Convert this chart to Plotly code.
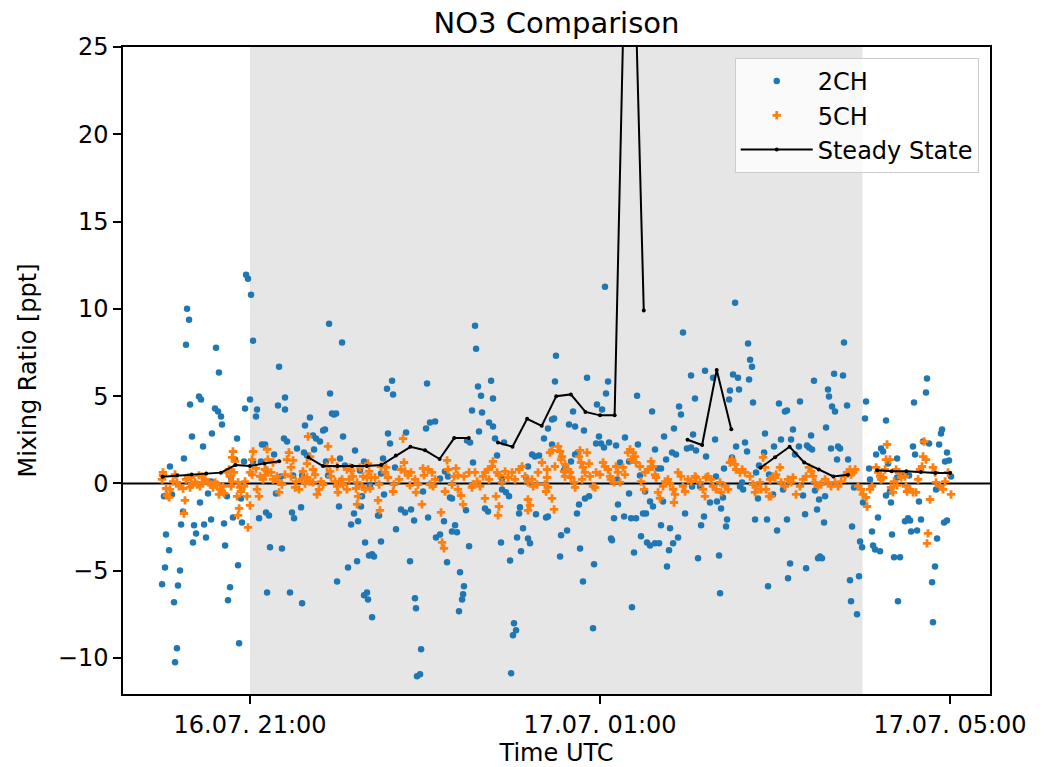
import pandas as pd
import plotly.graph_objects as go

# ---------------- data (minutes relative to 16.07. 21:00 UTC, mixing ratio in ppt) ----------------
ch2_points = [
    (-60.3, -5.78), (-59.0, -0.74), (-58.3, -4.81), (-57.6, -2.92), (-55.5, -3.83), (-54.9, 0.97), (-53.5, -0.63),
    (-52.1, -6.81), (-51.4, -10.24), (-50.1, -9.44), (-49.4, -5.84), (-48.0, -4.98), (-47.3, -2.35), (-45.9, -1.60),
    (-45.3, 1.43), (-43.9, 7.95), (-43.2, 10.01), (-41.8, 9.38), (-41.1, 4.52), (-39.8, 2.69), (-39.1, -3.38),
    (-38.4, -2.40), (-37.0, -2.86), (-35.0, 4.98), (-34.3, -1.09), (-33.6, 4.81), (-32.2, 2.12), (-31.5, -2.35),
    (-30.2, -3.09), (-28.8, -0.57), (-26.7, 0.11), (-26.7, -2.06), (-26.1, 2.86), (-24.0, 4.29), (-23.3, 7.78),
    (-21.9, 4.12), (-21.3, 6.35), (-19.9, 3.83), (-19.2, 3.38), (-17.8, -2.29), (-17.1, -3.55), (-15.8, -0.74),
    (-15.1, -6.69), (-13.7, -5.95), (-13.0, 0.34), (-11.7, -1.95), (-10.3, 1.37), (-8.9, 2.57), (-8.2, -4.69),
    (-7.5, -9.15), (-6.2, -0.86), (-5.5, -2.23), (-4.1, 1.26), (-3.4, 4.29), (-2.7, 11.96), (-1.4, 11.73),
    (0.0, 4.81), (0.7, 10.81), (2.1, 8.18), (2.1, 1.26), (4.1, 3.83), (4.8, 4.23), (6.2, -2.00), (7.5, 1.26),
    (8.2, 2.23), (10.3, 2.23), (11.0, -1.66), (11.7, -6.24), (13.0, -1.83), (13.7, -3.66), (16.5, 1.66),
    (17.8, -0.57), (19.2, 4.46), (19.9, 6.69), (21.3, 0.40), (21.9, -3.72), (23.3, 2.57), (24.0, 4.92),
    (24.0, 4.23), (25.4, 2.40), (27.4, -6.24), (28.8, -1.66), (29.5, 0.46), (30.2, -2.00), (32.2, 2.00),
    (35.0, -1.37), (35.7, 0.46), (35.7, -6.86), (37.0, 1.77), (37.7, 3.32), (39.1, 1.60), (41.1, 3.78),
    (43.2, 2.75), (43.9, 1.95), (45.3, 2.57), (48.0, 2.40), (50.1, 3.03), (51.4, 3.09), (52.1, 1.26),
    (53.5, 0.46), (54.2, 9.15), (54.9, 5.15), (56.2, 4.00), (57.6, 3.95), (59.0, 4.00), (59.7, -5.61),
    (61.0, -1.32), (61.7, 1.43), (63.1, 8.07), (63.8, 2.69), (65.1, 1.03), (67.2, -4.81), (69.3, -2.35),
    (71.3, -1.72), (72.0, 1.89), (73.4, -4.46), (74.1, -2.17), (75.4, 0.74), (76.1, -1.32), (76.8, -0.74),
    (78.2, 1.26), (78.2, -6.41), (78.9, -3.38), (80.2, -6.24), (80.9, -6.64), (81.6, -4.12), (82.3, -0.11),
    (83.7, -4.06), (83.7, -7.67), (85.0, -4.18), (87.8, -1.83), (88.5, -1.83), (89.8, 0.57), (89.8, -3.32),
    (91.2, 1.43), (91.9, -0.63), (93.9, 5.43), (94.6, 2.86), (96.0, 2.29), (97.4, 5.89), (98.1, 5.09),
    (99.4, 0.92), (100.1, -2.63), (103.5, -1.49), (106.3, -1.66), (107.0, 2.92), (109.7, -4.46), (110.4, -1.49),
    (112.5, -2.12), (113.1, -6.58), (113.8, -7.15), (114.5, -11.04), (116.6, -10.93), (117.3, -9.50),
    (118.6, -0.46), (120.7, 3.15), (121.4, 5.72), (122.1, -1.95), (123.4, 3.49), (125.5, -0.11), (126.9, 3.55),
    (127.5, -3.09), (130.3, -2.92), (130.3, 0.29), (133.0, -2.17), (133.7, 0.69), (135.1, -4.52), (135.8, 0.40),
    (137.1, -0.80), (138.5, -0.86), (138.5, -2.75), (140.6, -2.40), (141.9, -2.80), (143.3, -7.32),
    (144.0, -5.09), (145.4, -6.64), (146.1, -6.35), (146.7, -5.89), (148.1, -1.54), (148.8, 2.46),
    (150.2, -3.60), (150.9, 2.35), (152.2, 4.18), (152.9, 1.20), (154.3, 9.04), (155.0, 7.72), (156.3, 5.55),
    (157.0, 2.97), (158.4, 5.03), (159.1, 4.06), (161.1, -1.43), (163.2, -1.60), (163.9, 3.49), (165.3, 5.89),
    (166.6, 4.86), (166.6, 3.26), (168.0, 2.57), (169.4, 1.60), (172.1, -3.38), (172.8, 0.29), (172.8, -0.34),
    (174.2, 2.35), (175.5, -0.51), (177.6, -0.74), (178.3, -4.41), (179.0, -10.87), (180.3, -8.70),
    (181.0, -8.01), (182.4, -8.41), (183.1, -3.09), (184.5, -1.72), (185.1, -1.37), (185.8, -3.89),
    (187.2, -2.57), (189.3, 0.34), (190.6, 0.97), (190.6, -3.15), (192.0, -3.43), (193.4, 1.66), (195.4, 1.54),
    (196.1, -1.77), (198.2, 1.60), (201.6, 2.57), (203.0, -1.95), (204.3, -1.89), (204.3, 3.15), (207.1, 3.66),
    (207.1, 2.23), (208.5, 3.72), (209.1, 5.84), (209.8, 7.32), (212.6, -4.18), (213.3, -2.97), (215.3, 0.74),
    (216.0, 0.86), (217.4, -2.69), (218.7, 3.38), (220.1, 1.26), (221.5, 4.12), (222.9, 1.66), (222.9, 3.26),
    (224.2, -1.72), (224.9, 1.77), (225.6, -1.20), (226.3, -3.72), (228.3, -5.61), (229.0, 3.03), (229.7, -0.86),
    (231.1, 6.06), (232.5, -0.74), (235.2, -8.30), (235.9, -4.63), (237.3, 2.29), (237.9, 4.52), (239.3, 2.69),
    (240.7, 2.29), (241.4, 4.23), (242.7, 2.06), (243.4, 11.27), (244.1, 5.15), (245.5, 5.84), (246.2, 2.35),
    (247.5, -3.15), (248.2, -3.26), (249.6, -2.00), (251.0, 2.17), (251.7, 0.23), (252.3, -1.20), (253.7, 1.20),
    (256.5, -1.89), (257.1, 2.63), (259.9, 1.26), (259.9, -0.57), (261.3, -2.00), (261.9, -7.09), (263.3, -3.95),
    (264.7, -2.00), (265.4, 5.03), (266.0, 2.23), (267.4, 0.46), (268.1, -3.03), (269.5, -1.72), (270.9, -0.46),
    (271.5, -1.72), (272.2, -3.38), (274.3, -1.03), (274.3, -3.55), (275.7, 4.12), (276.3, -1.32), (277.7, 1.95),
    (277.7, -3.43), (279.8, 0.86), (280.5, -3.43), (281.8, 0.86), (281.8, -2.40), (283.2, -1.03), (283.9, 2.69),
    (285.3, 1.37), (285.9, -4.75), (287.3, -3.83), (288.0, -2.57), (289.4, 1.77), (290.1, -3.43), (290.7, 3.15),
    (292.1, 1.66), (293.5, -3.09), (294.2, 4.41), (295.5, 3.95), (296.9, 8.64), (298.3, -1.72), (299.6, 2.00),
    (302.4, 6.18), (302.4, 2.06), (303.1, -0.17), (303.8, 2.80), (305.1, 4.86), (305.8, 1.89), (307.2, -4.29),
    (308.6, -0.17), (309.3, -2.40), (311.3, -1.89), (312.0, 6.46), (312.7, 1.54), (315.4, -1.09), (317.5, 6.06),
    (318.9, 2.52), (319.5, 0.40), (320.2, -1.03), (321.6, -4.12), (322.3, -6.29), (323.0, -1.43), (324.3, -0.80),
    (325.0, 0.86), (326.4, -2.46), (327.1, -2.06), (328.5, 4.81), (329.1, 5.32), (330.5, 1.49), (331.2, 6.24),
    (332.6, 10.35), (333.3, 2.12), (334.6, 6.06), (335.3, 5.38), (336.0, -0.17), (337.4, 0.06), (338.1, -0.34),
    (339.4, 2.35), (340.8, 1.83), (341.5, 8.01), (342.2, 5.95), (342.9, 7.09), (344.2, 6.69), (344.9, 4.63),
    (346.3, -2.06), (347.0, 0.63), (348.3, -0.86), (349.0, 1.03), (352.5, 1.77), (353.1, 2.86), (354.5, -2.06),
    (355.2, -5.89), (355.9, 0.51), (358.6, -0.63), (359.3, 2.12), (361.4, -2.69), (362.7, 4.58), (364.1, 2.52),
    (365.5, -0.34), (366.8, 4.12), (368.2, 4.18), (368.2, -2.06), (368.9, -5.43), (370.3, -4.58), (371.0, 2.52),
    (372.3, 3.09), (373.7, 1.66), (376.4, 2.12), (377.1, 4.69), (379.2, -0.69), (380.6, -1.77), (381.3, -4.86),
    (381.9, 2.17), (383.3, 2.06), (384.7, 2.75), (385.4, 1.95), (386.7, 5.89), (387.4, -0.40), (388.8, -1.49),
    (389.5, -4.29), (390.2, -0.92), (390.8, -4.18), (392.2, -4.29), (393.6, -2.23), (394.3, -0.74), (395.0, 3.20),
    (396.3, 5.38), (397.0, 4.98), (398.4, 2.00), (399.1, 4.41), (400.5, 6.29), (401.1, 4.12), (402.5, 1.37),
    (403.2, 2.12), (404.6, 2.00), (406.6, 6.18), (407.3, 8.07), (409.4, 4.46), (410.1, 1.37), (411.4, -5.55),
    (412.1, -6.75), (412.8, -2.46), (414.2, -0.23), (416.2, -7.49), (417.6, -5.32), (418.3, -3.32), (419.7, -3.66),
    (420.3, -1.09), (421.7, 3.72), (422.4, 4.69), (424.5, 0.86), (425.1, 0.23), (426.5, -2.75), (427.2, -3.55),
    (428.6, -3.78), (429.3, 1.66), (430.6, -1.95), (432.0, -3.89), (432.7, 2.00), (434.1, 1.83), (436.1, 3.60),
    (436.1, -0.69), (437.5, 1.14), (438.8, -0.46), (439.5, -1.09), (440.2, -2.92), (441.6, -4.23), (443.7, 1.43),
    (443.7, 0.34), (444.3, -6.75), (445.7, -4.23), (447.1, 0.46), (449.1, -2.17), (451.2, -2.00), (451.9, 0.46),
    (452.6, -2.12), (453.3, -2.75), (454.6, 2.12), (455.3, 4.63), (456.0, 1.66), (457.4, -2.69), (458.7, -1.03),
    (460.1, -2.06), (461.5, 2.40), (463.5, 5.21), (464.2, 6.01), (465.6, 2.29), (467.7, -5.66), (468.3, -7.95),
    (469.7, -4.75), (470.4, -0.34), (471.1, -3.15), (472.5, 2.23), (473.8, 2.86), (474.5, 3.09), (475.9, -2.23),
    (476.6, 1.26), (477.9, 1.77), (477.9, -2.12), (479.3, 1.32), (480.7, 0.40),
]

ch5_points = [
    (-60.3, 0.23), (-59.7, 0.63), (-59.7, 0.46), (-57.6, -0.29), (-56.9, -0.69), (-55.5, -0.80), (-54.9, -0.34),
    (-52.8, 0.11), (-51.4, 0.51), (-50.1, 0.06), (-48.7, -0.17), (-45.9, -0.29), (-45.3, -1.72), (-44.6, -0.97),
    (-43.9, 0.23), (-42.5, 0.34), (-41.1, -0.23), (-40.5, 0.34), (-39.8, -0.06), (-37.7, 0.06), (-36.3, -0.06),
    (-35.0, 0.46), (-34.3, -0.17), (-32.9, 0.40), (-32.2, 0.06), (-30.9, 0.23), (-28.8, 0.06), (-26.7, -0.06),
    (-25.4, -0.23), (-24.0, 0.06), (-22.6, -0.06), (-21.3, -0.63), (-20.6, -0.34), (-19.2, -0.46), (-18.5, -0.17),
    (-17.8, -0.57), (-15.8, 0.63), (-14.4, 0.80), (-13.7, 0.40), (-13.0, -0.17), (-12.3, 0.11), (-11.7, 1.83),
    (-12.3, 1.49), (-11.0, 0.63), (-10.3, 1.26), (-8.9, -0.74), (-8.2, 0.06), (-8.2, -1.83), (-7.5, -1.43),
    (-6.9, -0.23), (-6.2, -0.46), (-4.1, -0.17), (-3.4, 0.11), (-2.1, -0.74), (-1.4, -2.52), (0.0, -1.26),
    (0.0, 0.63), (1.4, 0.51), (1.4, 1.37), (2.1, 1.83), (4.1, 0.86), (4.8, -0.34), (6.2, -0.74), (6.9, 0.40),
    (8.9, 0.23), (10.3, 0.46), (10.3, 0.80), (11.7, 1.95), (11.7, 0.74),
    (12.3, 1.37), (14.4, 0.63), (15.8, 1.20), (15.8, 0.23), (18.5, 0.40), (19.2, 0.11), (19.9, -0.51),
    (21.9, -0.06), (24.0, 0.51), (25.4, 1.37), (26.7, 1.77), (28.1, 0.92), (29.5, 1.32), (28.1, 0.40),
    (31.5, 0.11), (30.9, -0.23), (33.6, -0.34), (35.7, 0.23), (36.3, 0.69), (37.7, 0.00), (39.1, 1.14),
    (39.1, 0.34), (39.8, 2.69), (41.1, 1.54), (41.1, 0.11), (43.2, 0.80), (43.2, 0.06), (44.6, 0.51),
    (45.9, -0.63), (47.3, -0.34), (48.7, 0.11), (50.1, -0.06), (53.5, 2.12), (52.8, 0.97), (54.9, 0.69),
    (55.5, 0.40), (56.2, 1.37), (58.3, 0.11), (59.7, 0.97), (60.3, -0.51), (59.7, -0.17), (61.7, 0.11),
    (63.1, 0.23), (63.8, -0.06), (66.5, -0.34), (66.5, 0.80), (68.6, 0.92), (69.3, 0.74), (67.9, 0.23),
    (70.6, 0.40), (72.7, -0.29), (74.1, -0.74), (73.4, -1.20), (73.4, 0.06), (75.4, 0.92), (76.8, -0.17),
    (77.5, 0.40), (78.9, -0.34), (80.9, 1.14), (81.6, 0.69), (80.2, 0.34), (83.0, 0.34), (85.7, 0.34),
    (87.8, -0.97), (89.1, -1.54), (89.8, 0.97), (92.6, 0.63), (94.6, 0.34), (93.3, 0.92), (98.1, -0.46),
    (98.7, -0.06), (102.2, 0.23), (104.9, 2.57), (105.6, 1.20), (103.5, 0.80), (106.3, 0.69), (108.3, 0.46),
    (110.4, 0.63), (113.1, 0.23), (113.8, -0.51), (82.3, -0.29), (88.5, -0.06), (109.7, -0.11), (115.2, -0.06),
    (118.6, 0.86), (122.1, 0.80), (124.8, 0.63), (119.3, 0.46), (126.9, 0.23), (125.5, -0.17), (123.4, -0.06),
    (133.7, -0.46), (135.1, 1.32), (135.8, 0.80), (141.3, 0.86), (139.9, 0.40), (142.6, 0.46), (138.5, -0.06),
    (142.6, -0.34), (146.7, 0.40), (150.2, 0.63), (154.3, 0.63), (155.7, 0.11), (152.9, -0.06), (157.7, -0.17),
    (152.2, -0.23), (159.8, 0.40), (163.2, 0.80), (165.9, 0.97), (166.6, 1.26), (161.1, 0.63), (163.9, 0.23),
    (169.4, 0.63), (170.7, 0.46), (172.8, 0.06), (174.9, 0.69), (179.7, 0.63), (176.9, 0.34), (181.7, 0.23),
    (184.5, 0.80), (186.5, 0.97), (188.6, 0.40), (190.6, 0.06), (193.4, 0.23), (197.5, 0.63), (196.8, -0.06),
    (194.1, -0.17), (200.2, 1.20), (203.7, 0.80), (203.7, 0.34), (202.3, -0.06), (204.3, -0.23), (205.7, 1.77),
    (207.1, 1.89), (209.1, 0.97),
    (117.9, -1.20), (131.0, -1.66), (131.7, -3.38), (133.0, -3.72), (146.1, -1.20), (144.7, -0.69),
    (161.1, -0.86), (170.7, -1.32), (170.1, -1.83), (168.7, -0.74), (190.6, -0.92), (192.0, -1.26),
    (190.6, -1.54), (203.0, -0.46), (207.1, -0.86), (208.5, -1.49),
    (211.2, 2.12), (212.6, 1.83), (213.9, 1.54), (213.3, 1.37), (216.0, 1.09), (215.3, 0.69), (219.4, 0.63),
    (216.0, 0.40), (220.1, 0.34), (218.1, 0.80), (222.2, 0.06), (222.9, -0.23), (226.3, 1.89), (225.6, 1.54),
    (227.0, 1.20), (228.3, 0.92), (229.7, 0.63), (227.7, 0.23), (231.1, 1.77), (232.5, 1.14), (233.1, 0.40),
    (235.2, -0.17), (236.6, -0.23), (237.3, 0.63), (240.0, 0.51), (242.1, 1.20), (243.4, 0.97), (245.5, 0.80),
    (246.9, 0.40), (247.5, 0.23), (249.6, 0.06), (251.0, 0.97), (252.3, 0.63), (253.7, 0.06), (255.8, 0.92),
    (257.1, 0.51), (259.2, 1.77), (260.6, 1.95), (262.6, 1.77), (264.0, 1.54), (261.3, 1.37), (264.7, 1.20),
    (267.4, 0.97), (268.1, 0.11), (270.2, -0.34), (270.9, 0.63), (272.9, 0.80), (275.0, 1.26), (276.3, 0.97),
    (277.7, 0.51), (278.4, 0.34), (279.8, -0.51), (281.1, -0.86), (283.2, -0.17), (284.6, 0.11), (286.6, 0.23),
    (288.0, 0.00), (290.1, -0.34), (291.4, -0.63), (290.7, -1.09), (293.5, 0.63), (295.5, 0.40), (296.9, -0.17),
    (298.3, -0.46), (300.3, 0.23), (302.4, 0.11), (305.1, 0.40), (305.8, 0.34), (308.6, 0.06), (310.6, -0.34),
    (312.0, -0.74), (312.7, 0.34),
    (314.1, 0.40), (316.1, 0.23), (317.5, -0.17), (319.5, -0.34), (322.3, 0.06), (323.0, -0.51), (325.7, -0.17),
    (327.8, -0.34), (329.1, 1.20), (330.5, 1.37), (332.6, 1.09), (333.3, 0.80), (336.0, 0.63), (337.4, 0.80),
    (339.4, 0.63), (342.9, 0.40), (344.9, -0.06), (346.3, -0.51), (347.0, -0.17), (349.7, 0.06), (351.8, 1.49),
    (353.1, 0.92), (350.4, -0.34), (353.8, -0.34), (355.9, -0.74), (357.2, -0.74), (356.6, 0.23), (358.6, 0.40),
    (360.7, 0.51), (363.4, 0.92), (360.0, 0.34), (364.1, 0.06), (366.8, -0.17), (368.9, 0.23), (371.0, 0.06),
    (372.3, 0.34), (374.4, -0.63), (377.1, -0.17), (379.2, 0.23), (381.3, 0.40), (383.3, 0.92), (384.7, 0.69),
    (386.1, 0.40), (387.4, 0.06), (389.5, -0.17), (391.5, -0.06), (394.3, 0.23), (396.3, 0.06), (398.4, -0.17),
    (401.1, 0.06), (403.2, -0.17), (405.3, 0.11), (408.0, 0.40), (409.4, 0.63), (411.4, 0.80), (412.1, 0.51),
    (413.5, 0.63), (414.9, 0.80), (416.9, -0.17), (419.0, -0.34), (420.3, -0.63), (422.4, -0.80), (423.1, -1.32),
    (425.1, -0.34), (426.5, -0.17), (429.3, 0.92), (430.6, 0.63), (432.0, 0.40), (432.7, 0.23), (435.4, 0.80),
    (434.1, 0.34), (436.8, 2.23), (436.1, 1.37), (438.8, 1.37), (439.5, -0.23), (440.9, -0.51), (441.6, 0.11),
    (443.0, 0.80), (445.0, 0.63), (443.7, -0.11), (446.4, 0.34), (449.1, 0.40), (449.8, -0.17), (450.5, -0.46),
    (452.6, -0.34), (454.6, -0.51), (456.7, -0.51), (458.1, 0.23), (459.4, 0.80), (460.8, 0.97), (462.2, 2.40),
    (461.5, 1.54), (463.5, 1.37), (466.3, -0.92), (464.9, -2.86), (464.2, -3.43), (468.3, 0.92), (469.7, 0.63),
    (470.4, 0.06), (473.1, -0.17), (475.2, -0.34), (476.6, 0.11), (478.6, 0.63), (480.7, -0.63),
]

steady_minutes = [-60, -50, -40, -30, -20, -10, 0, 10, 20, 30, 40, 50, 60, 70, 80, 90, 100, 110, 120, 130,
                  140, 150, 160, 170, 180, 190, 200, 210, 220, 230, 240, 250, 260, 270, 280, 290, 300, 310,
                  320, 330, 340, 350, 360, 370, 380, 390, 400, 410, 420, 430, 440, 450, 460, 470, 480]
steady_ppt = [0.38, 0.45, 0.52, 0.57, 0.62, 1.05, 1.0, 1.15, 1.27, None, 1.5, 1.0, 1.0, 1.0, 1.0, 1.05, 1.6,
              2.1, 1.9, 1.4, 2.6, 2.6, None, 2.35, 2.1, 3.7, 3.3, 5.0, 5.1, 4.1, 3.9, 3.9, 41.5, 9.9, None,
              None, 2.5, 2.2, 6.5, 3.1, None, 0.9, 1.5, 2.1, 1.2, 0.8, 0.4, 0.5, None, 0.75, 0.7, 0.7, 0.65,
              0.6, 0.6]

night_start_min, night_end_min = 0, 420          # shaded period 21:00 - 04:00
x_range_min = [-87.1, 507.4]
y_range = [-12.06, 25]
y_ticks = [-10, -5, 0, 5, 10, 15, 20, 25]
x_tick_minutes = [0, 240, 480]
x_tick_labels = ["16.07. 21:00", "17.07. 01:00", "17.07. 05:00"]

# ---------------- build figure ----------------
base = pd.Timestamp("2023-07-16 21:00")


def to_time(mins):
    return [base + pd.Timedelta(minutes=m) for m in mins]


ch2_t, ch2_v = zip(*ch2_points)
ch5_t, ch5_v = zip(*ch5_points)

FONT = "DejaVu Sans"
fig = go.Figure()

fig.add_trace(go.Scatter(
    x=to_time(ch2_t), y=list(ch2_v), mode="markers", name="2CH",
    marker=dict(color="#1f77b4", size=6.5, symbol="circle", line=dict(width=0)),
))
fig.add_trace(go.Scatter(
    x=to_time(ch5_t), y=list(ch5_v), mode="markers", name="5CH",
    marker=dict(color="#ff7f0e", size=7, symbol="cross", line=dict(width=0)),
))
fig.add_trace(go.Scatter(
    x=to_time(steady_minutes), y=steady_ppt, mode="lines+markers", name="Steady State",
    line=dict(color="black", width=2), marker=dict(color="black", size=4),
    connectgaps=False,
))

t0, t1 = to_time([night_start_min, night_end_min])
fig.add_shape(type="rect", xref="x", yref="paper", x0=t0, x1=t1, y0=0, y1=1,
              fillcolor="rgba(128,128,128,0.2)", line=dict(width=0), layer="below")
fig.add_shape(type="line", xref="paper", yref="y", x0=0, x1=1, y0=0, y1=0,
              line=dict(color="black", width=2), layer="below")

xr = to_time(x_range_min)
fig.update_layout(
    width=1051, height=767,
    margin=dict(l=123, r=61, t=47, b=73, autoexpand=False),
    paper_bgcolor="white", plot_bgcolor="white",
    font=dict(family=FONT, size=24, color="black"),
    title=dict(text="NO3 Comparison", x=0.5, xref="paper", xanchor="center",
               y=1 - 23 / 767, yanchor="middle", font=dict(size=29, family=FONT, color="black")),
    showlegend=True,
    legend=dict(x=0.987, y=0.983, xanchor="right", yanchor="top",
                bgcolor="rgba(255,255,255,0.8)", bordercolor="#cccccc", borderwidth=1,
                font=dict(size=24, family=FONT), itemsizing="trace", itemwidth=72, tracegroupgap=0),
)
fig.update_xaxes(
    range=xr, tickvals=to_time(x_tick_minutes), ticktext=x_tick_labels, automargin=False,
    showgrid=False, zeroline=False, showline=True, linecolor="black", linewidth=1.5, mirror=True,
    ticks="outside", ticklen=8, tickwidth=1.5, tickcolor="black",
    title=dict(text="Time UTC", font=dict(size=24, family=FONT), standoff=8),
)
fig.update_yaxes(
    range=y_range, tickvals=y_ticks, automargin=False,
    showgrid=False, zeroline=False, showline=True, linecolor="black", linewidth=1.5, mirror=True,
    ticks="outside", ticklen=8, tickwidth=1.5, tickcolor="black",
    title=dict(text="Mixing Ratio [ppt]", font=dict(size=24, family=FONT), standoff=14),
)

fig.write_html("out.html", config={"displayModeBar": False},
               post_script="document.body.style.margin='0';document.body.style.overflow='hidden';")
